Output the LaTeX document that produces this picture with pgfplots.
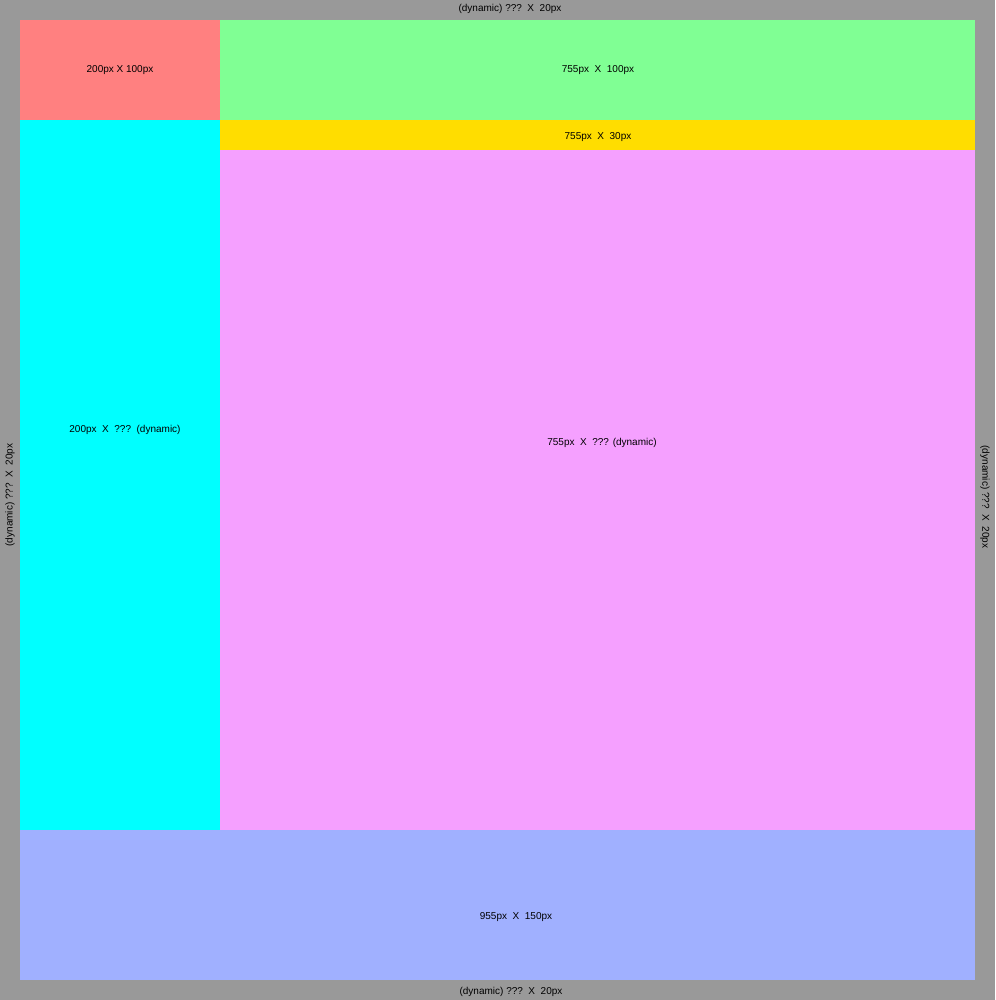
\documentclass[border=0pt]{standalone}
\usepackage{pgfplots}
\pgfplotsset{compat=1.18}
\usepackage{fontspec}
\setmainfont{Liberation Sans}
\definecolor{cgray}{HTML}{999999}
\definecolor{cred}{HTML}{FF8080}
\definecolor{cgreen}{HTML}{80FF94}
\definecolor{cyel}{HTML}{FFDD00}
\definecolor{cpink}{HTML}{F5A0FF}
\definecolor{ccyan}{HTML}{00FFFF}
\definecolor{cblue}{HTML}{A0B0FF}
\begin{document}
\begin{tikzpicture}
\begin{axis}[width=995pt,height=1000pt,scale only axis,hide axis,
  xmin=0,xmax=995,ymin=0,ymax=1000,y dir=reverse,clip=false,
  every node/.style={font=\fontsize{11}{13}\selectfont\bfseries}]
\addplot[fill=cgray,draw=none] coordinates {(0,0)(995,0)(995,1000)(0,1000)} -- cycle;
\addplot[fill=cred,draw=none] coordinates {(20,20)(220,20)(220,120)(20,120)} -- cycle;
\addplot[fill=cgreen,draw=none] coordinates {(220,20)(975,20)(975,120)(220,120)} -- cycle;
\addplot[fill=cyel,draw=none] coordinates {(220,120)(975,120)(975,150)(220,150)} -- cycle;
\addplot[fill=cpink,draw=none] coordinates {(220,150)(975,150)(975,830)(220,830)} -- cycle;
\addplot[fill=ccyan,draw=none] coordinates {(20,120)(220,120)(220,830)(20,830)} -- cycle;
\addplot[fill=cblue,draw=none] coordinates {(20,830)(975,830)(975,980)(20,980)} -- cycle;
\node at (axis cs:120,70) {200px X 100px};
\node at (axis cs:598,70) {755px~~X~~100px};
\node at (axis cs:598,137) {755px~~X~~30px};
\node at (axis cs:125,430) {200px~~X~~???~~(dynamic)};
\node at (axis cs:602,443) {755px~~X~~??? (dynamic)};
\node at (axis cs:516,917) {955px~~X~~150px};
\node at (axis cs:510,9) {(dynamic) ???~~X~~20px};
\node at (axis cs:511,992) {(dynamic) ???~~X~~20px};
\node[rotate=90] at (axis cs:10,495) {(dynamic) ???~~X~~20px};
\node[rotate=-90] at (axis cs:985,497) {(dynamic) ???~~X~~20px};
\end{axis}
\end{tikzpicture}
\end{document}
